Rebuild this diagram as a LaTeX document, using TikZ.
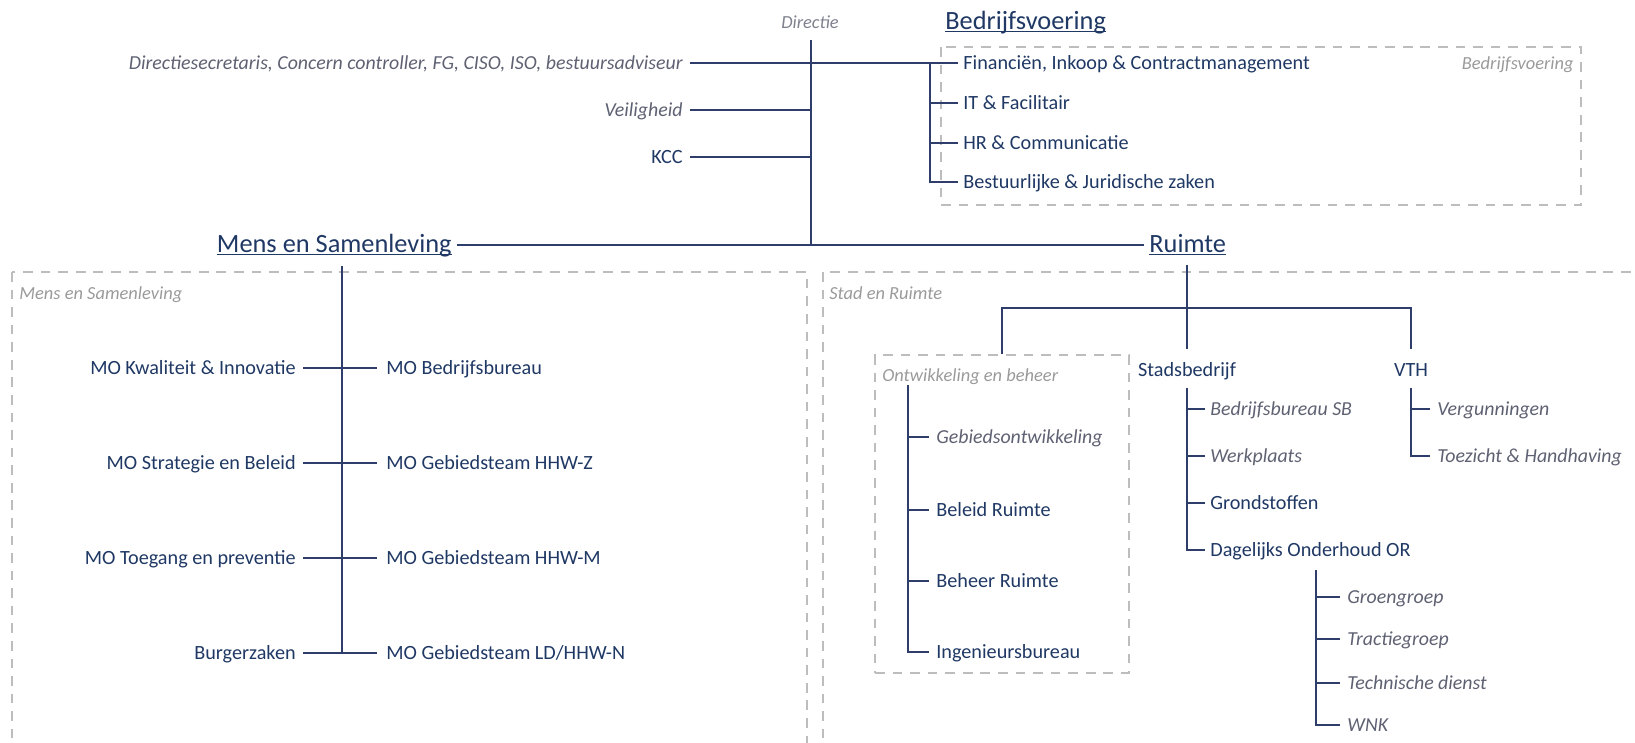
\documentclass[tikz,border=0pt]{standalone}
\usepackage{fontspec}
\setmainfont{Carlito}
\usetikzlibrary{positioning}

\definecolor{navy}{HTML}{1F3864}
\definecolor{linecol}{HTML}{2E3D6A}
\definecolor{itgray}{HTML}{5E6172}
\definecolor{lblgray}{HTML}{9A9A9A}
\definecolor{boxgray}{HTML}{BDBDBD}

\begin{document}
\begin{tikzpicture}[
      x=0.02cm, y=-0.02cm,
      unit/.style={
          text=navy,
          font=\fontsize{11.5}{14}\selectfont,
          inner sep=0pt,
          text height=7.5pt,
          text depth=0.5pt
        },
      sub/.style={
          unit,
          text=itgray,
          font=\fontsize{11.3}{13}\selectfont\itshape
        },
      caption/.style={
          unit,
          text=lblgray,
          font=\fontsize{10.5}{12}\selectfont\itshape
        },
      title/.style={
          unit,
          font=\fontsize{15}{18}\selectfont,
          text height=10pt,
          text depth=1pt
        },
      link/.style={draw=linecol, line width=0.85pt},
      trunk/.style={draw=linecol, line width=1.2pt},
      frame/.style={draw=boxgray, line width=1.3pt, dash pattern=on 5.5pt off 4.5pt}
    ]
    \useasboundingbox (0,0) rectangle (1635,743);
    \clip (0,0) rectangle (1635,743);

    % Directie
    \node[caption, text=itgray!80] (dir) at (810,22) {Directie};
    \coordinate (dtop) at (811,40);
    \coordinate (hub) at (811,245);
    \node[sub, anchor=east] (dsec) at (683,63) {Directiesecretaris, Concern controller, FG, CISO, ISO, bestuursadviseur};
    \node[sub, anchor=east] (veil) at (683,110) {Veiligheid};
    \node[unit, anchor=east] (kcc) at (683,157) {KCC};

    % Bedrijfsvoering
    \node[title, anchor=west] (bv) at (945,22) {Bedrijfsvoering};
    \draw[frame] (941,47) rectangle (1581,205);
    \node[caption, anchor=east] (bvcap) at (1574,63) {Bedrijfsvoering};
    \node[unit, anchor=west] (fin) at (963,63) {Financiën, Inkoop \& Contractmanagement};
    \node[unit, anchor=west] (it) at (963,103) {IT \& Facilitair};
    \node[unit, anchor=west] (hr) at (963,143) {HR \& Communicatie};
    \node[unit, anchor=west] (bjz) at (963,182) {Bestuurlijke \& Juridische zaken};
    \coordinate (bvsplit) at (930,63);

    \draw[trunk] (dtop) -- (hub);
    \draw[link] ([xshift=4pt]dsec.east) -- (bvsplit) -- ([xshift=-3pt]fin.west);
    \foreach \n in {veil,kcc}
    \draw[link] ([xshift=4pt]\n.east) -- (\n.east -| dtop);
    \draw[link] (bvsplit) -- (bvsplit |- bjz.west) -- ([xshift=-3pt]bjz.west);
    \foreach \n in {it,hr}
    \draw[link] (bvsplit |- \n.west) -- ([xshift=-3pt]\n.west);

    % Mens en Samenleving / Ruimte
    \node[title, anchor=east] (msam) at (452,245) {Mens en Samenleving};
    \node[title, anchor=west] (ruimte) at (1149,245) {Ruimte};
    \foreach \n in {bv,msam,ruimte}
    \draw[navy, line width=0.6pt] ([yshift=-1pt]\n.base west) -- ([yshift=-1pt]\n.base east);
    \draw[trunk] ([xshift=3pt]msam.east) -- (hub) -- ([xshift=-3pt]ruimte.west);

    \draw[frame] (12,272) rectangle (807,770);
    \node[caption, anchor=west] (mscap) at (19,293) {Mens en Samenleving};
    \draw[frame] (823,272) rectangle (1660,770);
    \node[caption, anchor=west] (srcap) at (829,293) {Stad en Ruimte};

    % MO afdelingen
    \coordinate (mstop) at (342,266);
    \node[unit, anchor=east] (msl1) at (296,368) {MO Kwaliteit \& Innovatie};
    \node[unit, anchor=east] (msl2) at (296,463) {MO Strategie en Beleid};
    \node[unit, anchor=east] (msl3) at (296,558) {MO Toegang en preventie};
    \node[unit, anchor=east] (msl4) at (296,653) {Burgerzaken};
    \node[unit, anchor=west] (msr1) at (386,368) {MO Bedrijfsbureau};
    \node[unit, anchor=west] (msr2) at (386,463) {MO Gebiedsteam HHW-Z};
    \node[unit, anchor=west] (msr3) at (386,558) {MO Gebiedsteam HHW-M};
    \node[unit, anchor=west] (msr4) at (386,653) {MO Gebiedsteam LD/HHW-N};
    \draw[trunk] (mstop) -- (mstop |- msl4.east);
    \foreach \i in {1,...,4}
    \draw[link] ([xshift=4pt]msl\i.east) -- ([xshift=-5pt]msr\i.west);

    % Stad en Ruimte
    \coordinate (rtop) at (1187,265);
    \coordinate (rsplit) at (1187,308);
    \node[unit] (sb) at (1187,370) {Stadsbedrijf};
    \node[unit] (vth) at (1411,370) {VTH};
    \node[frame, inner sep=0pt, minimum width=5.08cm, minimum height=6.36cm] (obox) at (1002,514) {};
    \draw[link] (rtop) -- ([yshift=8pt]sb.north);
    \draw[link] (obox.north) -- (obox.north |- rsplit) -- (vth.north |- rsplit) -- ([yshift=8pt]vth.north);

    % Ontwikkeling en beheer
    \coordinate (obtop) at (908,385);
    \node[caption, anchor=west] (obcap) at (882,375) {Ontwikkeling en beheer};
    \node[sub, anchor=west] (gebo) at (936,437) {Gebiedsontwikkeling};
    \node[unit, anchor=west] (belr) at (936,510) {Beleid Ruimte};
    \node[unit, anchor=west] (behr) at (936,581) {Beheer Ruimte};
    \node[unit, anchor=west] (ingb) at (936,652) {Ingenieursbureau};
    \draw[link] (obtop) -- (obtop |- ingb.west) -- ([xshift=-4pt]ingb.west);
    \foreach \n in {gebo,belr,behr}
    \draw[link] (obtop |- \n.west) -- ([xshift=-4pt]\n.west);

    % Stadsbedrijf
    \node[sub, anchor=west] (bbsb) at (1210,409) {Bedrijfsbureau SB};
    \node[sub, anchor=west] (werk) at (1210,456) {Werkplaats};
    \node[unit, anchor=west] (grond) at (1210,503) {Grondstoffen};
    \node[unit, anchor=west] (dag) at (1210,550) {Dagelijks Onderhoud OR};
    \draw[link] ([yshift=-6pt]sb.south) -- (sb.south |- dag.west) -- ([xshift=-3pt]dag.west);
    \foreach \n in {bbsb,werk,grond}
    \draw[link] (sb.south |- \n.west) -- ([xshift=-3pt]\n.west);

    % Dagelijks Onderhoud OR
    \coordinate (dagtop) at (1316,570);
    \node[sub, anchor=west] (groen) at (1347,597) {Groengroep};
    \node[sub, anchor=west] (tract) at (1347,639) {Tractiegroep};
    \node[sub, anchor=west] (tech) at (1347,683) {Technische dienst};
    \node[sub, anchor=west] (wnk) at (1347,725) {WNK};
    \draw[link] (dagtop) -- (dagtop |- wnk.west) -- ([xshift=-4pt]wnk.west);
    \foreach \n in {groen,tract,tech}
    \draw[link] (dagtop |- \n.west) -- ([xshift=-4pt]\n.west);

    % VTH
    \node[sub, anchor=west] (verg) at (1437,409) {Vergunningen};
    \node[sub, anchor=west] (toez) at (1437,456) {Toezicht \& Handhaving};
    \draw[link] ([yshift=-6pt]vth.south) -- (vth.south |- toez.west) -- ([xshift=-4pt]toez.west);
    \draw[link] (vth.south |- verg.west) -- ([xshift=-4pt]verg.west);
  \end{tikzpicture}
\end{document}
